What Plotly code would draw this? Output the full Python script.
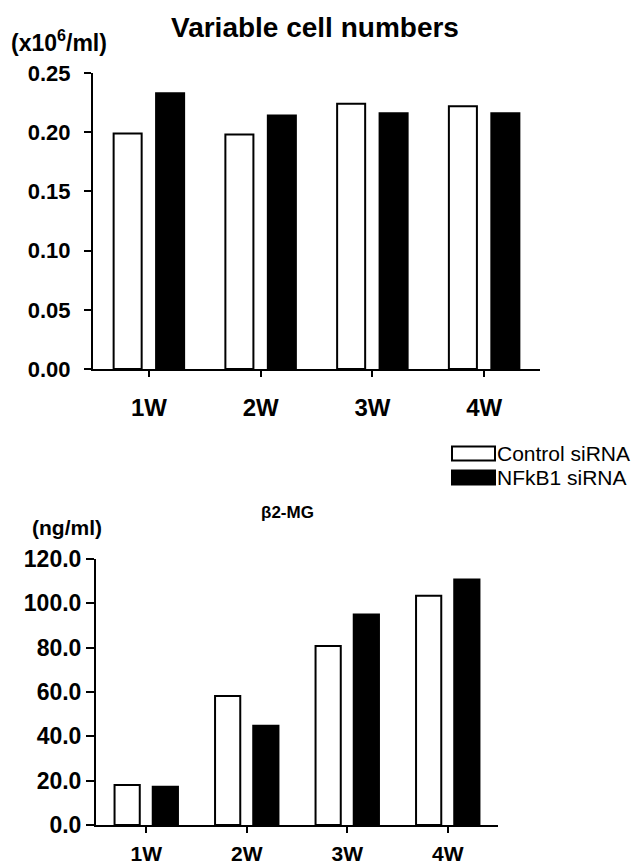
import plotly.graph_objects as go

weeks = ["1W", "2W", "3W", "4W"]
series_names = ["Control siRNA", "NFkB1 siRNA"]
cells_control = [0.199, 0.198, 0.224, 0.222]
cells_nfkb1 = [0.233, 0.214, 0.216, 0.216]
b2mg_control = [18.0, 58.2, 80.8, 103.4]
b2mg_nfkb1 = [17.3, 44.8, 95.0, 110.8]
cells_ticks = [0.00, 0.05, 0.10, 0.15, 0.20, 0.25]
b2mg_ticks = [0, 20, 40, 60, 80, 100, 120]

W, H = 634, 865
FONT = "Liberation Sans, Arial, sans-serif"

def px(x):
    return x / W

def py(y):
    return 1 - y / H

fig = go.Figure()
styles = [dict(color="white", line=dict(color="black", width=2)),
          dict(color="black", line=dict(color="black", width=2))]

for vals, nm, st in zip([cells_control, cells_nfkb1], series_names, styles):
    fig.add_trace(go.Bar(x=weeks, y=vals, name=nm, marker=st,
                         xaxis="x", yaxis="y", showlegend=False))
for vals, nm, st in zip([b2mg_control, b2mg_nfkb1], series_names, styles):
    fig.add_trace(go.Bar(x=weeks, y=vals, name=nm, marker=st,
                         xaxis="x2", yaxis="y2", showlegend=False))

axis_common = dict(showline=True, linecolor="black", linewidth=2,
                   ticks="outside", tickcolor="black", tickwidth=2,
                   showgrid=False, zeroline=False, mirror=False,
                   automargin=False)

fig.update_layout(
    width=W, height=H,
    margin=dict(l=0, r=0, t=0, b=0, autoexpand=False),
    paper_bgcolor="white", plot_bgcolor="white",
    barmode="group", bargap=0.24, bargroupgap=0.34,
    font=dict(family=FONT, color="black"),
    xaxis=dict(domain=[px(93), px(540)], anchor="y", range=[-0.5, 3.5],
               ticklen=6, tickfont=dict(size=24, weight="bold"),
               ticklabelstandoff=10, **axis_common),
    yaxis=dict(domain=[py(369), py(73)], anchor="x", range=[0, 0.25],
               tickvals=cells_ticks, tickformat=".2f", ticklen=7,
               tickfont=dict(size=22, weight="bold"),
               ticklabelstandoff=9, **axis_common),
    xaxis2=dict(domain=[px(96), px(498)], anchor="y2", range=[-0.5, 3.5],
                ticklen=6, tickfont=dict(size=21, weight="bold"),
                ticklabelstandoff=3, **axis_common),
    yaxis2=dict(domain=[py(825), py(559)], anchor="x2", range=[0, 120],
                tickvals=b2mg_ticks, tickformat=".1f", ticklen=8,
                tickfont=dict(size=23, weight="bold"),
                ticklabelstandoff=0, **axis_common),
)

annotations = [
    dict(text="<b>Variable cell numbers</b>", x=px(315), y=py(27),
         font=dict(size=28)),
    dict(text="<b>(x10<sup>6</sup>/ml)</b>", x=px(59), y=py(41),
         font=dict(size=23)),
    dict(text="<b>β2-MG</b>", x=px(287), y=py(512), font=dict(size=17)),
    dict(text="<b>(ng/ml)</b>", x=px(67), y=py(527), font=dict(size=21)),
]
for a in annotations:
    a.update(xref="paper", yref="paper", showarrow=False,
             xanchor="center", yanchor="middle")
    fig.add_annotation(**a)

# Legend (drawn as shapes + text)
legend_rows = [(453.5, "white"), (477.5, "black")]
for (yc, fill), nm in zip(legend_rows, series_names):
    fig.add_shape(type="rect", xref="paper", yref="paper",
                  x0=px(452), x1=px(495), y0=py(yc + 7), y1=py(yc - 7),
                  fillcolor=fill, line=dict(color="black", width=2))
    fig.add_annotation(text=nm, xref="paper", yref="paper", x=px(495), y=py(yc),
                       xanchor="left", yanchor="middle", showarrow=False,
                       font=dict(size=21))

fig.write_html("out.html",
               config={"displayModeBar": False},
               post_script="document.body.style.margin='0';"
                           "document.body.style.overflow='hidden';")
